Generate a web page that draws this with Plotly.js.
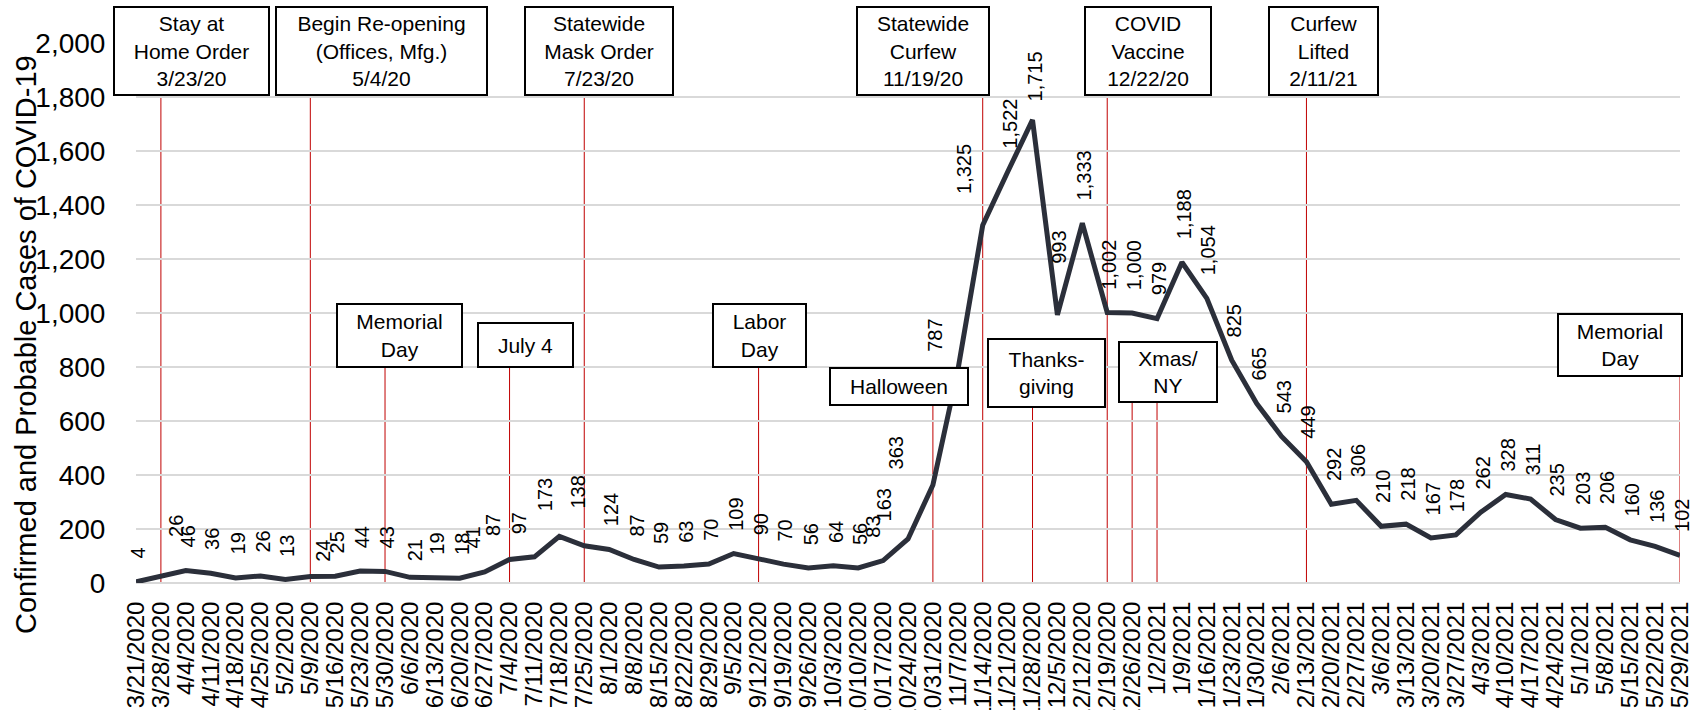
<!DOCTYPE html>
<html><head><meta charset="utf-8">
<script src="https://cdn.plot.ly/plotly-3.0.1.min.js"></script>
<style>html,body{margin:0;padding:0;background:#fff}#chart{width:1704px;height:710px}</style>
</head><body><div id="chart"></div>
<script>
// ---------- data ----------
const weeks = ["3/21/2020","3/28/2020","4/4/2020","4/11/2020","4/18/2020","4/25/2020","5/2/2020","5/9/2020","5/16/2020","5/23/2020","5/30/2020","6/6/2020","6/13/2020","6/20/2020","6/27/2020","7/4/2020","7/11/2020","7/18/2020","7/25/2020","8/1/2020","8/8/2020","8/15/2020","8/22/2020","8/29/2020","9/5/2020","9/12/2020","9/19/2020","9/26/2020","10/3/2020","10/10/2020","10/17/2020","10/24/2020","10/31/2020","11/7/2020","11/14/2020","11/21/2020","11/28/2020","12/5/2020","12/12/2020","12/19/2020","12/26/2020","1/2/2021","1/9/2021","1/16/2021","1/23/2021","1/30/2021","2/6/2021","2/13/2021","2/20/2021","2/27/2021","3/6/2021","3/13/2021","3/20/2021","3/27/2021","4/3/2021","4/10/2021","4/17/2021","4/24/2021","5/1/2021","5/8/2021","5/15/2021","5/22/2021","5/29/2021"];
const cases = [4,26,46,36,19,26,13,24,25,44,43,21,19,18,41,87,97,173,138,124,87,59,63,70,109,90,70,56,64,56,83,163,363,787,1325,1522,1715,993,1333,1002,1000,979,1188,1054,825,665,543,449,292,306,210,218,167,178,262,328,311,235,203,206,160,136,102];
const yTicks = [0,200,400,600,800,1000,1200,1400,1600,1800,2000];
const yTitle = "Confirmed and Probable Cases of COVID-19";

const eventTexts = ["Stay at<br>Home Order<br>3/23/20","Begin Re-opening<br>(Offices, Mfg.)<br>5/4/20","Statewide<br>Mask Order<br>7/23/20","Statewide<br>Curfew<br>11/19/20","COVID<br>Vaccine<br>12/22/20","Curfew<br>Lifted<br>2/11/21","Memorial<br>Day","July 4","Labor<br>Day","Halloween","Thanks-<br>giving","Xmas/<br>NY","Memorial<br>Day"];
const eventWeeks = [["3/28/2020"],["5/9/2020"],["7/25/2020"],["11/14/2020"],["12/19/2020"],["2/13/2021"],["5/30/2020"],["7/4/2020"],["9/12/2020"],["10/31/2020"],["11/28/2020"],["12/26/2020","1/2/2021"],["5/29/2021"]];

// ---------- layout / style ----------
const FW = 1704, FH = 710, ML = 136, MR = 24, MT = 43, MB = 127;
const PW = FW - ML - MR, PH = FH - MT - MB, PBOT = FH - MB;
const px = v => (v - ML) / PW;
const py = v => (PBOT - v) / PH;
const FONT = "Liberation Sans, Arial, sans-serif";
// event boxes in pixels: [left, top, right, bottom]
const eventBoxes = [[113,6,270,96],[275,6,488,96],[524,6,674,96],[856,6,990,96],[1084,6,1212,96],[1268,6,1379,96],[336,303,463,368],[477,322,574,368],[712,303,807,368],[829,367,969,406],[987,338,1106,408],[1118,341,1218,403],[1557,313,1683,377]];
// manual nudges of some value labels [dx, dy] in pixels
const labelNudge = {1:[13,16],7:[10,-8],11:[3,-7],14:[-14,0],15:[-19,0],16:[-18,0],17:[-17,2],18:[-8,14],30:[-13,0],31:[-26,-6],32:[-38,-7],33:[-25,-4],34:[-20,8],36:[0,-5],37:[0,28]};

const trace = {
  type: 'scatter', mode: 'lines', x: weeks, y: cases,
  line: {color: '#2b2f3a', width: 5}, hoverinfo: 'x+y', showlegend: false
};

const annotations = [];
cases.forEach((v, i) => {
  const n = labelNudge[i] || [0, 0];
  annotations.push({
    xref: 'x', yref: 'y', x: i, y: v, text: v.toLocaleString('en-US'),
    textangle: -90, showarrow: false, xanchor: 'center', yanchor: 'bottom',
    xshift: 2 + n[0], yshift: 21 + n[1],
    font: {family: FONT, size: 20, color: '#000'}
  });
});
eventTexts.forEach((t, i) => {
  const b = eventBoxes[i];
  annotations.push({
    xref: 'paper', yref: 'paper', x: px(b[0]), y: py(b[1]),
    xanchor: 'left', yanchor: 'top', showarrow: false, text: t,
    width: b[2] - b[0] - 4, height: b[3] - b[1] - 4,
    bordercolor: '#000', borderwidth: 2, borderpad: 0, bgcolor: '#fff',
    align: 'center', valign: 'middle',
    font: {family: FONT, size: 21, color: '#000'}
  });
});
annotations.push({
  xref: 'paper', yref: 'paper', x: px(26), y: py(345), xanchor: 'center', yanchor: 'middle',
  textangle: -90, showarrow: false, text: yTitle,
  font: {family: FONT, size: 29, color: '#000'}
});

const shapes = [];
eventWeeks.forEach((ws, i) => {
  ws.forEach(w => {
    const k = weeks.indexOf(w);
    shapes.push({type: 'line', xref: 'x', yref: 'paper', x0: k, x1: k, y0: 0, y1: py(eventBoxes[i][3]),
      line: {color: '#c00000', width: 1}, layer: 'below'});
  });
});

const layout = {
  width: FW, height: FH,
  margin: {l: ML, r: MR, t: MT, b: MB, pad: 0},
  paper_bgcolor: '#fff', plot_bgcolor: '#fff',
  font: {family: FONT, color: '#000'},
  showlegend: false,
  xaxis: {
    type: 'category', range: [0, weeks.length - 1], tickangle: -90,
    tickmode: 'linear', tick0: 0, dtick: 1,
    tickfont: {family: FONT, size: 24, color: '#000'},
    showgrid: false, showline: false, zeroline: false,
    ticks: 'outside', ticklen: 8, tickcolor: 'rgba(0,0,0,0)', automargin: false
  },
  yaxis: {
    range: [0, 2000], tickvals: yTicks, tickformat: ',',
    tickfont: {family: FONT, size: 28, color: '#000'},
    showgrid: true, gridcolor: '#d9d9d9', gridwidth: 1.3,
    zeroline: true, zerolinecolor: '#d9d9d9', zerolinewidth: 1.3,
    showline: false, ticks: 'outside', ticklen: 24, tickcolor: 'rgba(0,0,0,0)', automargin: false
  },
  annotations: annotations,
  shapes: shapes
};

Plotly.newPlot('chart', [trace], layout, {displayModeBar: false, staticPlot: true});
</script>
</body></html>
